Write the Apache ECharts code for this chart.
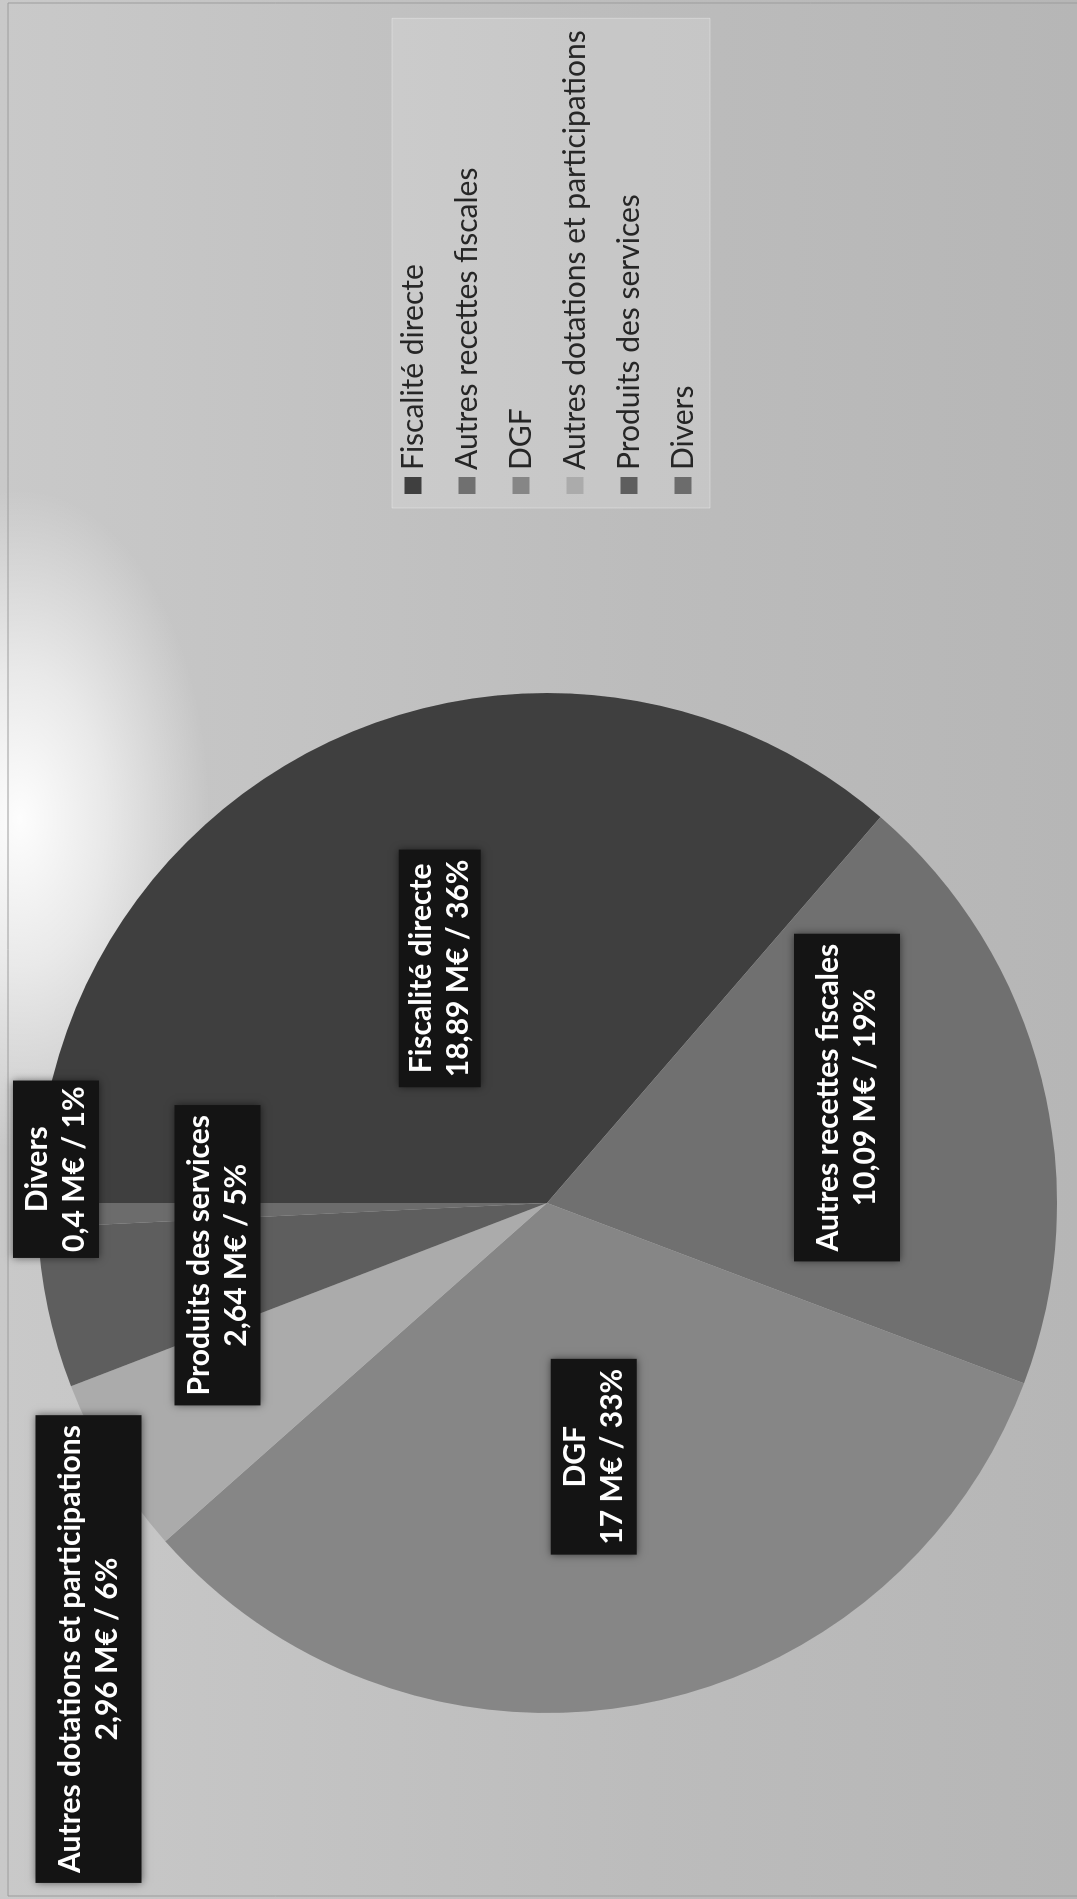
<!DOCTYPE html>
<html>
<head>
<meta charset="utf-8">
<script src="https://cdn.jsdelivr.net/npm/echarts@6/dist/echarts.min.js"></script>
<style>
  html, body { margin: 0; padding: 0; width: 1077px; height: 1899px; overflow: hidden; background: #c0c0c0; }
  /* the chart is drawn landscape, then turned a quarter turn left like the scan */
  #chart {
    position: absolute; left: 0; top: 0;
    width: 1899px; height: 1077px;
    transform-origin: 0 0;
    transform: translate(0, 1899px) rotate(-90deg);
    background:
      radial-gradient(ellipse 330px 190px at 1080px 20px, rgba(255,255,255,0.97), rgba(255,255,255,0.6) 45%, rgba(255,255,255,0) 100%),
      linear-gradient(to bottom, #c9c9c9, #bcbcbc 60%, #b6b6b6);
  }
</style>
</head>
<body>
<div id="chart"></div>
<script>
const categories = ['Fiscalité directe', 'Autres recettes fiscales', 'DGF', 'Autres dotations et participations', 'Produits des services', 'Divers'];
const amounts = [18.89, 10.09, 17, 2.96, 2.64, 0.4];
const sliceColors = ['#3f3f3f', '#707070', '#868686', '#ababab', '#5e5e5e', '#6c6c6c'];
// label nudges from the inner position, px
const labelShift = [[0, 0], [42, 50], [0, 0], [-312, -238], [1, -77], [40, -233]];
// some of the scanned label boxes are thicker than others
const labelPad = [[4, 10], [16, 10], [6, 10], [16, 10], [6, 10], [6, 6]];

const chart = echarts.init(document.getElementById('chart'));

function fmtNum(v) {
  return String(v).replace('.', ',');
}

chart.setOption({
  animation: false,
  color: sliceColors,
  legend: {
    orient: 'vertical',
    left: 1391,
    top: 392,
    padding: [4, 12, 10, 14],
    itemWidth: 17,
    itemHeight: 17,
    itemGap: 20,
    icon: 'rect',
    backgroundColor: 'rgba(255,255,255,0.16)',
    borderColor: 'rgba(255,255,255,0.3)',
    borderWidth: 1,
    selectedMode: false,
    textStyle: {
      fontFamily: 'Lato',
      fontSize: 30,
      lineHeight: 34,
      color: '#262626',
      padding: [0, 0, 0, 2]
    },
    data: categories
  },
  graphic: [{
    type: 'rect',
    shape: { x: 3, y: 8, width: 1893, height: 1100 },
    style: { fill: 'none', stroke: '#9c9c9c', lineWidth: 1 },
    silent: true
  }],
  series: [{
    type: 'pie',
    center: [696, 547],
    radius: 510,
    startAngle: 90,
    clockwise: true,
    avoidLabelOverlap: false,
    emphasis: { disabled: true },
    itemStyle: { borderWidth: 0 },
    label: {
      show: true,
      position: 'inside',
      formatter: function (p) {
        return p.name + '\n' + fmtNum(p.value) + ' M€ / ' + Math.round(p.percent) + '%';
      },
      fontFamily: 'Lato',
      fontWeight: 'bold',
      fontSize: 30,
      lineHeight: 37,
      color: '#ffffff',
      align: 'center',
      backgroundColor: '#141414',
      shadowBlur: 8,
      shadowColor: 'rgba(0,0,0,0.55)'
    },
    labelLine: { show: false },
    labelLayout: function (params) {
      const s = labelShift[params.dataIndex];
      return { dx: s[0], dy: s[1] };
    },
    data: categories.map(function (name, i) {
      return { name: name, value: amounts[i], label: { padding: labelPad[i] } };
    })
  }]
});
</script>
</body>
</html>
